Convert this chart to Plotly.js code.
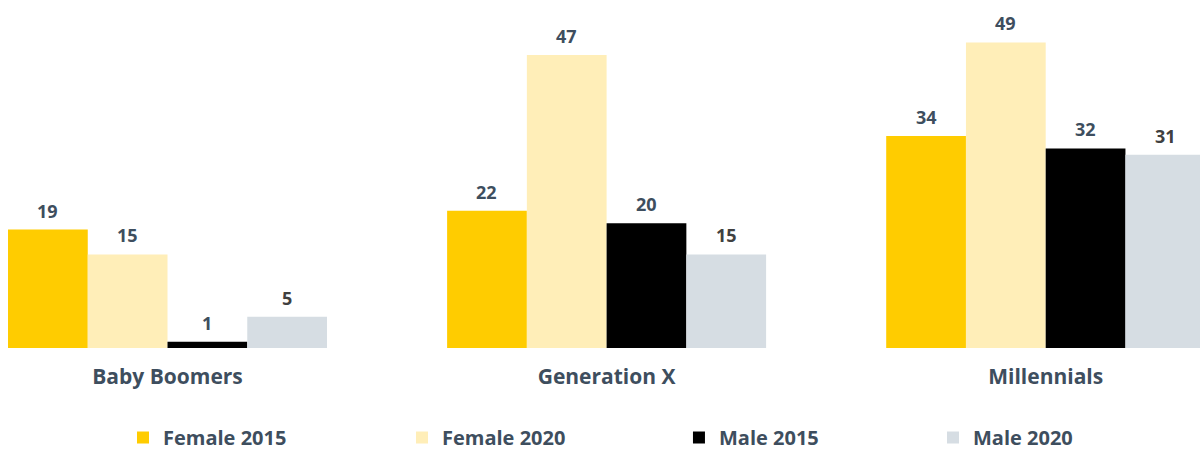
<!DOCTYPE html>
<html>
<head>
<meta charset="utf-8">
<script src="https://cdn.plot.ly/plotly-3.0.1.min.js"></script>
<style>html,body{margin:0;padding:0;background:#fff;}#chart{width:1200px;height:451px;}</style>
</head>
<body>
<div id="chart"></div>
<script>
var categories = ["Baby Boomers", "Generation X", "Millennials"];
var seriesNames = ["Female 2015", "Female 2020", "Male 2015", "Male 2020"];
var female2015 = [19, 22, 34];
var female2020 = [15, 47, 49];
var male2015 = [1, 20, 32];
var male2020 = [5, 15, 31];

var seriesValues = [female2015, female2020, male2015, male2020];
var colors = ["#FFCC00", "#FFEEB8", "#000000", "#D6DDE3"];
var labelColors = ["#3E4E5E", "#3E4E5E", "#3E4E5E", "#404040"];
var legendIds = ["legend", "legend2", "legend3", "legend4"];
var legendX = [0.1025, 0.335, 0.5658, 0.7775];
var bargap = 0.2735;
var FONT = "'Open Sans', 'DejaVu Sans', sans-serif";

var traces = seriesValues.map(function (vals, i) {
  return {
    type: "bar",
    name: seriesNames[i],
    legend: legendIds[i],
    x: categories,
    y: vals,
    marker: {color: colors[i], line: {width: 0}},
    hoverinfo: "name+y"
  };
});

var n = seriesValues.length;
var w = (1 - bargap) / n;
var annotations = [];
seriesValues.forEach(function (vals, i) {
  vals.forEach(function (v, j) {
    annotations.push({
      xref: "x", yref: "y",
      x: j - (1 - bargap) / 2 + (i + 0.5) * w,
      y: v,
      text: "<b>" + v + "</b>",
      showarrow: false,
      yanchor: "bottom",
      yshift: 5,
      font: {family: FONT, size: 18, color: labelColors[i]}
    });
  });
});

var layout = {
  width: 1200, height: 451,
  margin: {l: 0, r: 0, t: 0, b: 103, autoexpand: false},
  paper_bgcolor: "#ffffff",
  plot_bgcolor: "#ffffff",
  barmode: "group",
  bargap: bargap,
  bargroupgap: 0,
  showlegend: true,
  xaxis: {
    type: "category",
    range: [-0.3815, 2.3514],
    showgrid: false, zeroline: false, showline: false,
    ticks: "",
    ticklabelstandoff: 14,
    tickfont: {family: FONT, size: 21, color: "#3E4E5E", weight: "bold"}
  },
  yaxis: {
    range: [0, 55.8],
    showgrid: false, zeroline: false, showline: false,
    showticklabels: false, ticks: ""
  },
  annotations: annotations
};

legendIds.forEach(function (id, i) {
  layout[id] = {
    orientation: "h",
    x: legendX[i], xanchor: "left",
    y: -0.2572, yanchor: "middle",
    itemwidth: 30,
    entrywidth: 160,
    bgcolor: "rgba(0,0,0,0)",
    font: {family: FONT, size: 20, color: "#3E4E5E", weight: "bold"}
  };
});

Plotly.newPlot("chart", traces, layout, {displayModeBar: false, staticPlot: true});
</script>
</body>
</html>
